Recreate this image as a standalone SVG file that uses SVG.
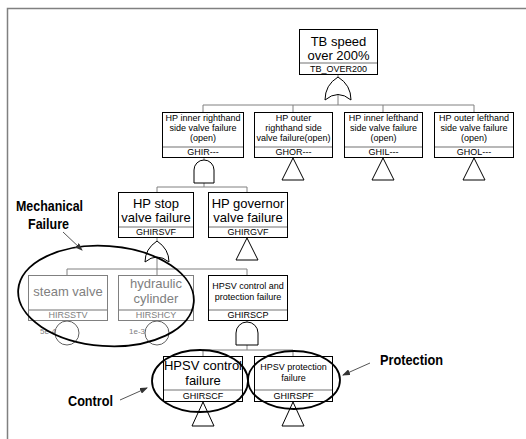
<svg xmlns="http://www.w3.org/2000/svg" width="526" height="439" viewBox="0 0 526 439">
<defs>
<style>
.bg{fill:#fff}
.frame{fill:none;stroke:#808080;stroke-width:1.5}
.box{fill:#fff;stroke:#000;stroke-width:1}
.gbox{fill:#fff;stroke:#808080;stroke-width:1}
.sep{stroke:#a0a0a0;stroke-width:1.5}
.con{fill:none;stroke:#808080;stroke-width:1}
.gate{fill:#fff;stroke:#000;stroke-width:1}
.circ{fill:none;stroke:#606060;stroke-width:1}
.t{font-family:"Liberation Sans",Arial,sans-serif;text-anchor:middle;fill:#000}
.big{font-size:13px}
.sm{font-size:9px}
.id{font-size:9px}
.gray{fill:#808080}
.lbl{font-family:"Liberation Sans Narrow","Liberation Sans",Arial,sans-serif;font-weight:bold;font-size:15px;fill:#000}
.ell{fill:none;stroke:#000;stroke-width:1.8}
.arr{stroke:#555;stroke-width:1;fill:none}
</style>
<marker id="ah" markerWidth="8" markerHeight="6" refX="7" refY="3" orient="auto" markerUnits="userSpaceOnUse">
<path d="M0,0 L8,3 L0,6 Z" fill="#333"/>
</marker>
</defs>
<rect class="bg" x="0" y="0" width="526" height="439"/>
<path class="frame" d="M7.5,439 V8.5 H526"/>

<g id="connectors">
<path class="con" d="M338,74 V78 M338,94 V105 M203,105 H474 M203,105 V112 M293,105 V112 M383,105 V112 M474,105 V112"/>
<path class="con" d="M204,157 V160 M204,183 V187 M157,187 H247 M157,187 V192 M247,187 V192"/>
<path class="con" d="M157,238 V242 M157,256 V269 M67,269 H247 M67,269 V275 M157,269 V275 M247,269 V275"/>
<path class="con" d="M247,321 V322 M247,345 V350 M203,350 H293 M203,350 V356 M293,350 V356"/>
</g>

<g id="TB_OVER200">
<rect class="box" x="299.5" y="29.5" width="78" height="45"/>
<line class="sep" x1="300" y1="63" x2="377" y2="63"/>
<text class="t big" x="338.5" y="46">TB speed</text>
<text class="t big" x="338.5" y="60">over 200%</text>
<text class="t id" x="338.5" y="72">TB_OVER200</text>
<path class="gate" d="M325,100 Q325,85 338,77 Q351,85 351,100 Q338,89 325,100 Z"/>
</g>

<g id="GHIR">
<rect class="box" x="162.5" y="112.5" width="81" height="45"/>
<line class="sep" x1="163" y1="147" x2="243" y2="147"/>
<text class="t sm" x="203" y="121">HP inner righthand</text>
<text class="t sm" x="203" y="131">side valve failure</text>
<text class="t sm" x="203" y="141">(open)</text>
<text class="t id" x="203" y="155">GHIR---</text>
<path class="gate" d="M194,183 V170 A10,10 0 0 1 214,170 V183 Z"/>
</g>

<g id="GHOR">
<rect class="box" x="254.5" y="112.5" width="78" height="45"/>
<line class="sep" x1="255" y1="147" x2="332" y2="147"/>
<text class="t sm" x="293.5" y="121">HP outer</text>
<text class="t sm" x="293.5" y="131">righthand side</text>
<text class="t sm" x="293.5" y="141">valve failure(open)</text>
<text class="t id" x="293.5" y="155">GHOR---</text>
<path class="gate" d="M293,158 L304,180 L282,180 Z"/>
</g>

<g id="GHIL">
<rect class="box" x="344.5" y="112.5" width="78" height="45"/>
<line class="sep" x1="345" y1="147" x2="422" y2="147"/>
<text class="t sm" x="383.5" y="121">HP inner lefthand</text>
<text class="t sm" x="383.5" y="131">side valve failure</text>
<text class="t sm" x="383.5" y="141">(open)</text>
<text class="t id" x="383.5" y="155">GHIL---</text>
<path class="gate" d="M383,158 L394,180 L372,180 Z"/>
</g>

<g id="GHOL">
<rect class="box" x="434.5" y="112.5" width="79" height="45"/>
<line class="sep" x1="435" y1="147" x2="513" y2="147"/>
<text class="t sm" x="474" y="121">HP outer lefthand</text>
<text class="t sm" x="474" y="131">side valve failure</text>
<text class="t sm" x="474" y="141">(open)</text>
<text class="t id" x="474" y="155">GHOL---</text>
<path class="gate" d="M474,158 L485,180 L463,180 Z"/>
</g>

<g id="GHIRSVF">
<rect class="box" x="118.5" y="192.5" width="75" height="45"/>
<line class="sep" x1="119" y1="227" x2="193" y2="227"/>
<text class="t big" x="156" y="208">HP stop</text>
<text class="t big" x="156" y="222">valve failure</text>
<text class="t id" x="156" y="235">GHIRSVF</text>
<path class="gate" d="M145,262 Q145,249 157,241 Q169,249 169,262 Q157,252 145,262 Z"/>
</g>

<g id="GHIRGVF">
<rect class="box" x="208.5" y="192.5" width="79" height="45"/>
<line class="sep" x1="209" y1="227" x2="287" y2="227"/>
<text class="t big" x="248" y="208">HP governor</text>
<text class="t big" x="248" y="222">valve failure</text>
<text class="t id" x="248" y="235">GHIRGVF</text>
<path class="gate" d="M247,238 L258,260 L236,260 Z"/>
</g>

<g id="HIRSSTV">
<rect class="gbox" x="28.5" y="275.5" width="79" height="45"/>
<line class="sep" x1="29" y1="310" x2="107" y2="310"/>
<text class="t big gray" x="68" y="296">steam valve</text>
<text class="t id gray" x="68" y="318">HIRSSTV</text>
<circle class="circ" cx="67" cy="333" r="12"/>
<text class="t gray" style="font-size:8px" x="48" y="334">5e-4</text>
</g>

<g id="HIRSHCY">
<rect class="gbox" x="118.5" y="275.5" width="75" height="45"/>
<line class="sep" x1="119" y1="310" x2="193" y2="310"/>
<text class="t big gray" x="156" y="288">hydraulic</text>
<text class="t big gray" x="156" y="303">cylinder</text>
<text class="t id gray" x="156" y="318">HIRSHCY</text>
<circle class="circ" cx="157" cy="333" r="12"/>
<text class="t gray" style="font-size:8px" x="137" y="334">1e-3</text>
</g>

<g id="GHIRSCP">
<rect class="box" x="208.5" y="275.5" width="79" height="45"/>
<line class="sep" x1="209" y1="310" x2="287" y2="310"/>
<text class="t sm" x="248" y="289">HPSV control and</text>
<text class="t sm" x="248" y="300">protection failure</text>
<text class="t id" x="248" y="318">GHIRSCP</text>
<path class="gate" d="M236,345 V333 A11,11 0 0 1 258,333 V345 Z"/>
</g>

<g id="GHIRSCF">
<rect class="box" x="163.5" y="356.5" width="79" height="45"/>
<line class="sep" x1="164" y1="390" x2="242" y2="390"/>
<text class="t big" x="203" y="370">HPSV control</text>
<text class="t big" x="203" y="385">failure</text>
<text class="t id" x="203" y="399">GHIRSCF</text>
<path class="gate" d="M203,402 L214,426 L192,426 Z"/>
</g>

<g id="GHIRSPF">
<rect class="box" x="254.5" y="356.5" width="78" height="45"/>
<line class="sep" x1="255" y1="390" x2="332" y2="390"/>
<text class="t sm" x="293.5" y="370">HPSV protection</text>
<text class="t sm" x="293.5" y="381">failure</text>
<text class="t id" x="293.5" y="399">GHIRSPF</text>
<path class="gate" d="M293,402 L304,426 L282,426 Z"/>
</g>

<g id="annotations">
<ellipse class="ell" cx="106" cy="296" rx="88" ry="50" transform="rotate(4 106 296)"/>
<ellipse class="ell" cx="200" cy="381" rx="48" ry="31"/>
<ellipse class="ell" cx="294" cy="380" rx="46" ry="29"/>
<text class="lbl" x="16" y="211" textLength="67" lengthAdjust="spacingAndGlyphs">Mechanical</text>
<text class="lbl" x="28" y="229" textLength="41" lengthAdjust="spacingAndGlyphs">Failure</text>
<line class="arr" x1="63" y1="232" x2="82" y2="250" marker-end="url(#ah)"/>
<text class="lbl" x="68" y="406" textLength="45" lengthAdjust="spacingAndGlyphs">Control</text>
<line class="arr" x1="120" y1="400" x2="147" y2="388" marker-end="url(#ah)"/>
<text class="lbl" x="380" y="365" textLength="63" lengthAdjust="spacingAndGlyphs">Protection</text>
<line class="arr" x1="370" y1="363" x2="343" y2="375" marker-end="url(#ah)"/>
</g>
</svg>
